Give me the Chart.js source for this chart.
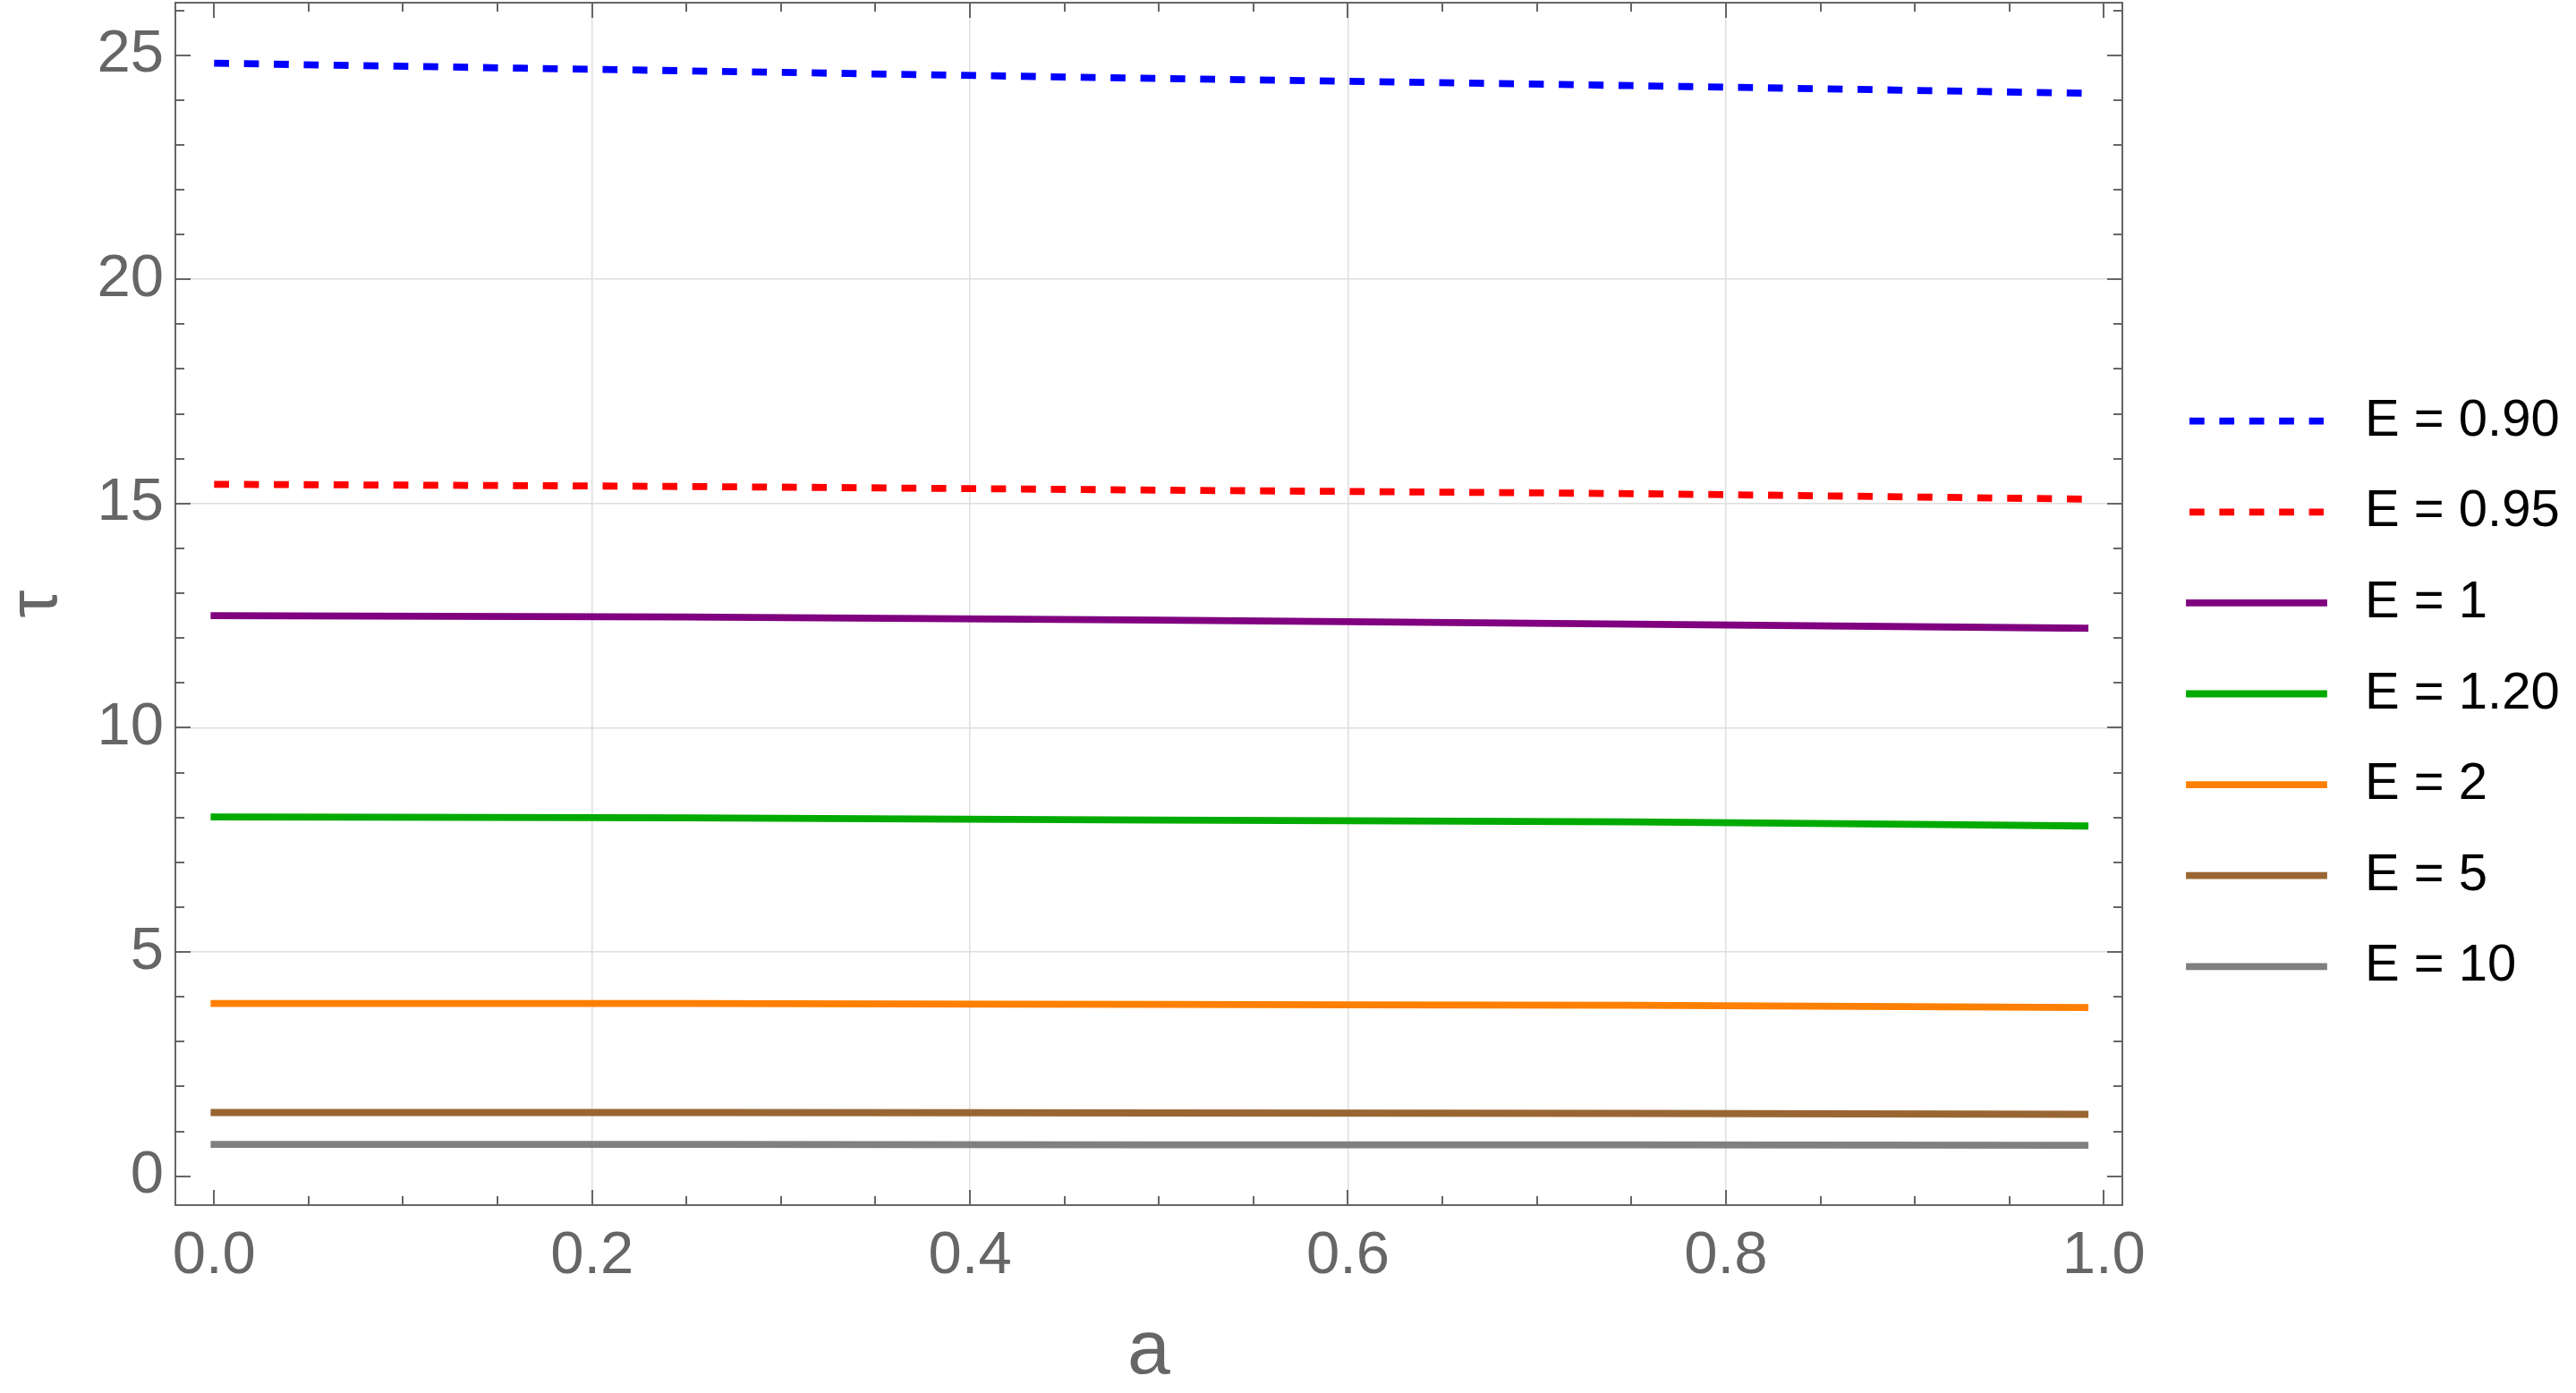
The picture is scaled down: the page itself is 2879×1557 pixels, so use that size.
<!DOCTYPE html>
<html><head><meta charset="utf-8">
<script src="https://cdn.jsdelivr.net/npm/chart.js@4.4.0/dist/chart.umd.min.js"></script>
<style>html,body{margin:0;padding:0;background:#fff;} canvas{display:block;}</style>
</head><body>
<canvas id="c" width="2879" height="1557"></canvas>
<script>
// ---- data ----
const aValues = [0, 0.25, 0.5, 0.75, 0.99];
const tauE090 = [24.82, 24.65, 24.48, 24.32, 24.15];
const tauE095 = [15.43, 15.38, 15.30, 15.22, 15.10];
const tauE1   = [12.50, 12.47, 12.40, 12.31, 12.22];
const tauE120 = [8.01, 7.99, 7.94, 7.90, 7.81];
const tauE2   = [3.85, 3.85, 3.83, 3.81, 3.76];
const tauE5   = [1.42, 1.42, 1.41, 1.40, 1.38];
const tauE10  = [0.71, 0.71, 0.70, 0.70, 0.69];
const seriesLabels = ['E = 0.90', 'E = 0.95', 'E = 1', 'E = 1.20', 'E = 2', 'E = 5', 'E = 10'];
const xTickValues = [0, 0.2, 0.4, 0.6, 0.8, 1.0];
const xTickLabels = ['0.0', '0.2', '0.4', '0.6', '0.8', '1.0'];
const yTickValues = [0, 5, 10, 15, 20, 25];
const yTickLabels = ['0', '5', '10', '15', '20', '25'];
const xAxisTitle = 'a';
const yAxisTitle = 'τ';

// ---- styles ----
const seriesData = [tauE090, tauE095, tauE1, tauE120, tauE2, tauE5, tauE10];
const seriesColors = ['#0000ff', '#ff0000', '#800080', '#00aa00', '#ff8000', '#996633', '#808080'];
const seriesDashed = [true, true, false, false, false, false, false];
const DASH = [16.7, 16.7];
const LINE_W = 7.8;
const FRAME = '#666666';
const FONT = '"Liberation Sans", Arial, sans-serif';

const datasets = seriesData.map((vals, i) => ({
  label: seriesLabels[i],
  data: aValues.map((a, j) => ({x: a, y: vals[j]})),
  borderColor: seriesColors[i],
  backgroundColor: seriesColors[i],
  borderWidth: LINE_W,
  borderDash: seriesDashed[i] ? DASH : [],
  borderCapStyle: seriesDashed[i] ? 'butt' : 'square',
  pointRadius: 0,
  fill: false,
  cubicInterpolationMode: 'monotone'
}));

const framePlugin = {
  id: 'frameTicks',
  afterDraw(chart) {
    const ctx = chart.ctx, ca = chart.chartArea;
    const xs = chart.scales.x, ys = chart.scales.y;
    ctx.save();
    ctx.strokeStyle = FRAME;
    ctx.lineWidth = 2;
    ctx.setLineDash([]);
    ctx.strokeRect(ca.left, ca.top, ca.right - ca.left, ca.bottom - ca.top);
    const MAJ = 17, MIN = 10;
    ctx.beginPath();
    for (let k = 0; k <= 20; k++) {
      const v = k * 0.05;
      const len = (k % 4 === 0) ? MAJ : MIN;
      const px = Math.round(xs.getPixelForValue(v));
      ctx.moveTo(px, ca.bottom); ctx.lineTo(px, ca.bottom - len);
      ctx.moveTo(px, ca.top); ctx.lineTo(px, ca.top + len);
    }
    for (let k = 0; k <= 26; k++) {
      const len = (k % 5 === 0) ? MAJ : MIN;
      const py = Math.round(ys.getPixelForValue(k));
      ctx.moveTo(ca.left, py); ctx.lineTo(ca.left + len, py);
      ctx.moveTo(ca.right, py); ctx.lineTo(ca.right - len, py);
    }
    ctx.stroke();

    // legend
    const ds = chart.data.datasets;
    const rowH = 101.6;
    const y0 = chart.height / 2 - 3 - rowH * (ds.length - 1) / 2;
    const lx0 = ca.right + 75, lx1 = ca.right + 225, tx = ca.right + 271;
    ctx.font = '58px ' + FONT;
    ctx.textBaseline = 'middle';
    ctx.textAlign = 'left';
    ds.forEach((d, i) => {
      const y = y0 + i * rowH;
      ctx.beginPath();
      ctx.strokeStyle = d.borderColor;
      ctx.lineWidth = d.borderWidth;
      ctx.lineCap = d.borderCapStyle;
      ctx.setLineDash(d.borderDash);
      ctx.moveTo(lx0, y); ctx.lineTo(lx1, y);
      ctx.stroke();
      ctx.setLineDash([]);
      ctx.fillStyle = '#000000';
      ctx.fillText(d.label, tx, y);
    });
    ctx.restore();
  }
};

new Chart(document.getElementById('c'), {
  type: 'line',
  data: {datasets},
  options: {
    responsive: false,
    animation: false,
    devicePixelRatio: 1,
    layout: {padding: {left: 0, top: 3, right: 507, bottom: 0}},
    plugins: {legend: {display: false}, tooltip: {enabled: false}},
    scales: {
      x: {
        type: 'linear',
        min: -0.0205, max: 1.0098,
        afterBuildTicks: s => { s.ticks = xTickValues.map(v => ({value: v})); },
        afterFit: s => { s.height = 210; s.paddingLeft = 0; s.paddingRight = 0; },
        grid: {
          color: c => (c.tick && c.tick.value > 0.001 && c.tick.value < 0.999) ? '#dedede' : 'rgba(0,0,0,0)',
          lineWidth: 1.5, drawTicks: false
        },
        border: {display: false},
        ticks: {
          padding: 17, color: FRAME, maxRotation: 0, autoSkip: false,
          font: {family: FONT, size: 67},
          callback: (v) => xTickLabels[xTickValues.findIndex(t => Math.abs(t - v) < 1e-9)]
        },
        title: {display: true, text: xAxisTitle, color: FRAME,
          font: {family: FONT, size: 86, lineHeight: 1}, padding: {top: 0, bottom: 3}}
      },
      y: {
        type: 'linear',
        min: -0.645, max: 26.17,
        afterBuildTicks: s => { s.ticks = yTickValues.map(v => ({value: v})); },
        afterFit: s => { s.width = 196; s.paddingTop = 0; s.paddingBottom = 0; },
        grid: {
          color: c => (c.tick && c.tick.value > 0.001 && c.tick.value < 24.999) ? '#dedede' : 'rgba(0,0,0,0)',
          lineWidth: 1.5, drawTicks: false
        },
        border: {display: false},
        ticks: {
          padding: 13, color: FRAME, autoSkip: false,
          font: {family: FONT, size: 67},
          callback: (v) => yTickLabels[yTickValues.indexOf(v)]
        },
        title: {display: true, text: yAxisTitle, color: FRAME,
          font: {family: FONT, size: 78, lineHeight: 1}, padding: {top: 2, bottom: 0}}
      }
    }
  },
  plugins: [framePlugin]
});
</script>
</body></html>
